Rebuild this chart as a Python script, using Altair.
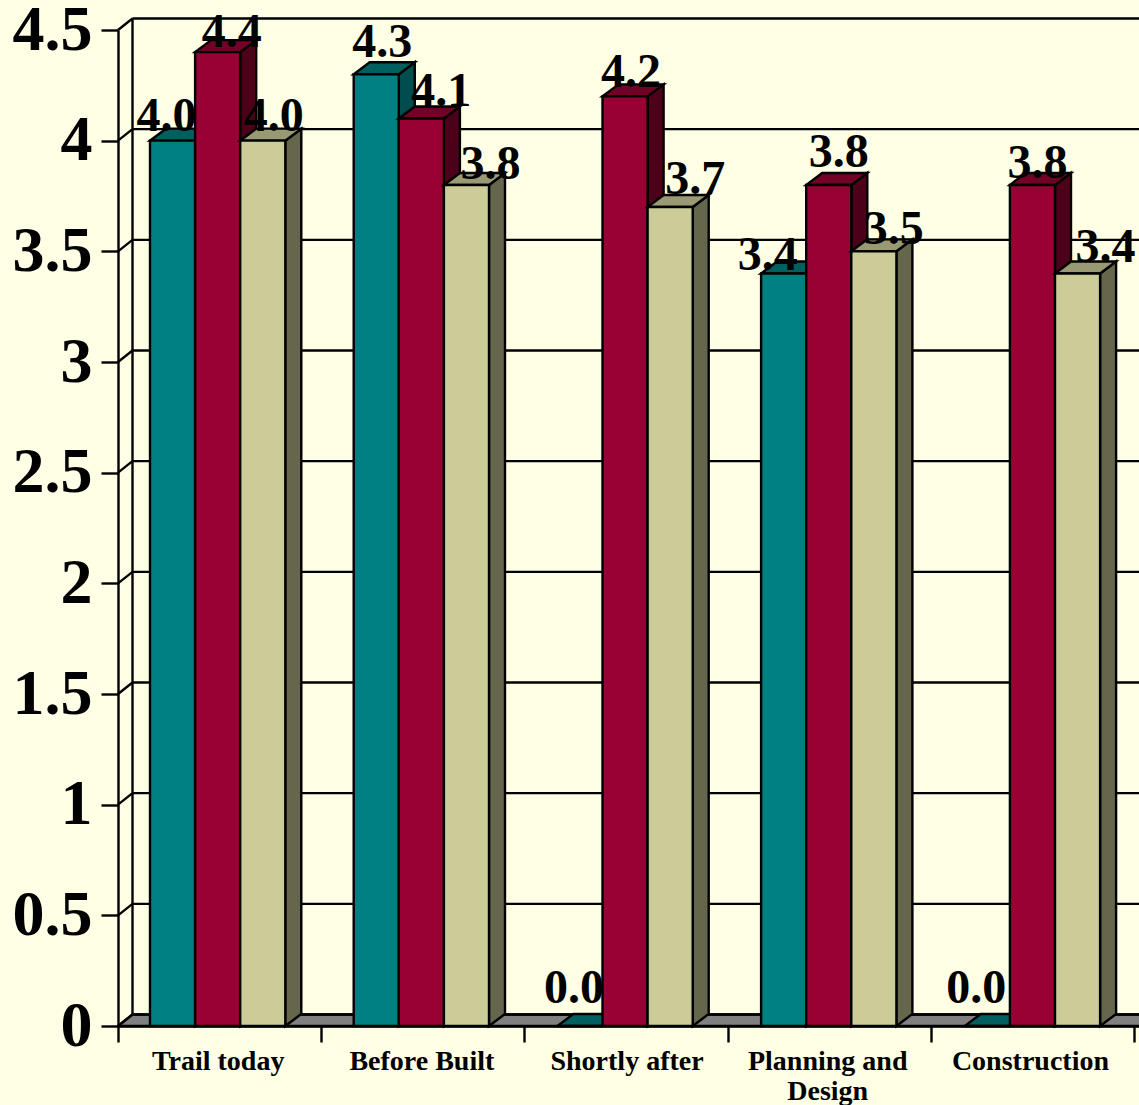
import altair as alt
import pandas as pd

# Survey ratings by trail project phase
categories = ["Trail today", "Before Built", "Shortly after", "Planning and\nDesign", "Construction"]
teal_values = [4.0, 4.3, 0.0, 3.4, 0.0]
red_values = [4.4, 4.1, 4.2, 3.8, 3.8]
tan_values = [4.0, 3.8, 3.7, 3.5, 3.4]
y_ticks = [0, 0.5, 1, 1.5, 2, 2.5, 3, 3.5, 4, 4.5]

# Page layout, in pixels
LEFT, TOP, BOTTOM = 118, 30, 79
PLOT_W, PLOT_H = 1139 - LEFT, 1105 - TOP - BOTTOM
TICK_STEP = 203.2
BAR_STEP = 203.7
BAR_LEAD = 32.0
BAR_W = 45.1
Y_MAX = 4.5
PX_PER_VALUE = PLOT_H / Y_MAX

# Projection of the chart depth
WALL_DX, WALL_DY = 14.5, 11.5
BAR_DX, BAR_DY = 16.0, 12.0


def ux(px):
    return px / TICK_STEP


def uy(px):
    return px / PX_PER_VALUE


sx = alt.Scale(domain=[0, PLOT_W / TICK_STEP], nice=False, zero=False)
sy = alt.Scale(domain=[0, Y_MAX], nice=False, zero=False)

# Front axes carry the ticks and the value labels
x_axis = alt.Axis(
    values=[0, 1, 2, 3, 4, 5], labels=False, grid=False,
    tickSize=16, tickWidth=2.4, tickColor="#000000",
    domainWidth=2.4, domainColor="#000000", title=None,
)
y_axis = alt.Axis(
    values=y_ticks, format="~g", grid=False,
    tickSize=17, tickWidth=2.4, tickColor="#000000",
    domainWidth=2.4, domainColor="#000000", title=None,
    labelFont="Liberation Serif", labelFontWeight="bold", labelFontSize=64,
    labelColor="#000000", labelPadding=9, labelFlush=False,
    labelOverlap=False, labelBound=False,
)


def X(field):
    return alt.X(field, type="quantitative", scale=sx, axis=x_axis)


def Y(field):
    return alt.Y(field, type="quantitative", scale=sy, axis=y_axis)


LINE = {"stroke": "#000000", "strokeWidth": 2.4}

# Floor of the box, under the back wall
floor_df = pd.DataFrame({
    "x": [0, ux(WALL_DX)],
    "x2": [ux(PLOT_W + 40), ux(PLOT_W + 40)],
    "y": [0, uy(WALL_DY)],
})
floor = alt.Chart(floor_df).mark_area(orient="horizontal", color="#808080", **LINE).encode(
    y=Y("y"), x=X("x"), x2="x2:Q"
)

# Back wall lines and the diagonals joining them to the front axis
grid_df = pd.DataFrame({
    "v": y_ticks,
    "back": [v + uy(WALL_DY) for v in y_ticks],
    "x0": [0.0] * len(y_ticks),
    "x1": [ux(WALL_DX)] * len(y_ticks),
    "x2": [PLOT_W / TICK_STEP] * len(y_ticks),
})
grid = alt.Chart(grid_df).mark_rule(**LINE).encode(x=X("x1"), x2="x2:Q", y=Y("back"))
diagonals = alt.Chart(grid_df).mark_rule(**LINE).encode(
    x=X("x0"), x2="x1:Q", y=Y("v"), y2="back:Q"
)
wall_df = pd.DataFrame({"x": [ux(WALL_DX)], "y": [uy(WALL_DY)], "y2": [Y_MAX + uy(WALL_DY)]})
wall = alt.Chart(wall_df).mark_rule(**LINE).encode(x=X("x"), y=Y("y"), y2="y2:Q")


def bar_faces(values, position, front, top, side):
    """Side, top and front faces of one series of bars."""
    side_rows, top_rows, front_rows = [], [], []
    for i, v in enumerate(values):
        left = ux(BAR_LEAD + i * BAR_STEP + position * BAR_W)
        right = left + ux(BAR_W)
        dx, dy = ux(BAR_DX), uy(BAR_DY)
        side_rows += [
            {"k": i, "x": right, "y": v, "y2": 0.0},
            {"k": i, "x": right + dx, "y": v + dy, "y2": dy},
        ]
        top_rows += [
            {"k": i, "y": v, "x": left, "x2": right},
            {"k": i, "y": v + dy, "x": left + dx, "x2": right + dx},
        ]
        front_rows.append({"x": left, "x2": right, "y": v, "y2": 0.0})
    return [
        alt.Chart(pd.DataFrame(side_rows)).mark_area(color=side, **LINE).encode(
            x=X("x"), y=Y("y"), y2="y2:Q", detail="k:N"
        ),
        alt.Chart(pd.DataFrame(top_rows)).mark_area(orient="horizontal", color=top, **LINE).encode(
            y=Y("y"), x=X("x"), x2="x2:Q", detail="k:N"
        ),
        alt.Chart(pd.DataFrame(front_rows)).mark_rect(color=front, **LINE).encode(
            x=X("x"), x2="x2:Q", y=Y("y"), y2="y2:Q"
        ),
    ]


series = [
    (teal_values, 0, "#008080", "#006060", "#004d4d"),
    (red_values, 1, "#990033", "#730026", "#4d001a"),
    (tan_values, 2, "#CCCC99", "#999973", "#66664D"),
]
bars = []
for s in series:
    bars += bar_faces(*s)

# Hand placement of each value label relative to the top centre of its bar
label_nudge_x = [[-6, 6, -6, -16, -11], [14, 20, 6, 10, 5], [11, 24, 25, 20, 28]]
label_nudge_y = [[10, 17, 23, 3, 23], [5, 13, 9, 18, 7], [10, 6, 13, 7, 11]]

label_rows = []
for (values, position, *_), nx, ny in zip(series, label_nudge_x, label_nudge_y):
    for i, v in enumerate(values):
        centre = BAR_LEAD + i * BAR_STEP + (position + 0.5) * BAR_W
        label_rows.append({
            "x": ux(centre + nx[i]),
            "y": v + uy(ny[i]),
            "label": f"{v:.1f}",
        })
value_labels = alt.Chart(pd.DataFrame(label_rows)).mark_text(
    font="Liberation Serif", fontWeight="bold", fontSize=48, color="#000000",
    align="center", baseline="alphabetic",
).encode(x=X("x"), y=Y("y"), text="label:N")

# Category names sit below the front edge, centred under the middle bar
name_nudge = [0.5, 0.5, 2, -1, -2]
cat_df = pd.DataFrame({
    "x": [ux(BAR_LEAD + i * BAR_STEP + 1.5 * BAR_W + name_nudge[i]) for i in range(len(categories))],
    "y": [-uy(44)] * len(categories),
    "name": categories,
})
category_labels = alt.Chart(cat_df).mark_text(
    font="Liberation Serif", fontWeight="bold", fontSize=28, color="#000000",
    align="center", baseline="alphabetic", lineBreak="\n", lineHeight=30,
).encode(x=X("x"), y=Y("y"), text="name:N")

chart = alt.layer(
    floor, grid, wall, diagonals, *bars, value_labels, category_labels
).properties(
    width=PLOT_W,
    height=PLOT_H,
    background="#FFFFE5",
    padding={"left": LEFT, "top": TOP, "right": 0, "bottom": BOTTOM},
    autosize=alt.AutoSizeParams(type="none"),
).configure_view(stroke=None)

chart.save("out.html", embed_options={"renderer": "svg", "actions": False})
